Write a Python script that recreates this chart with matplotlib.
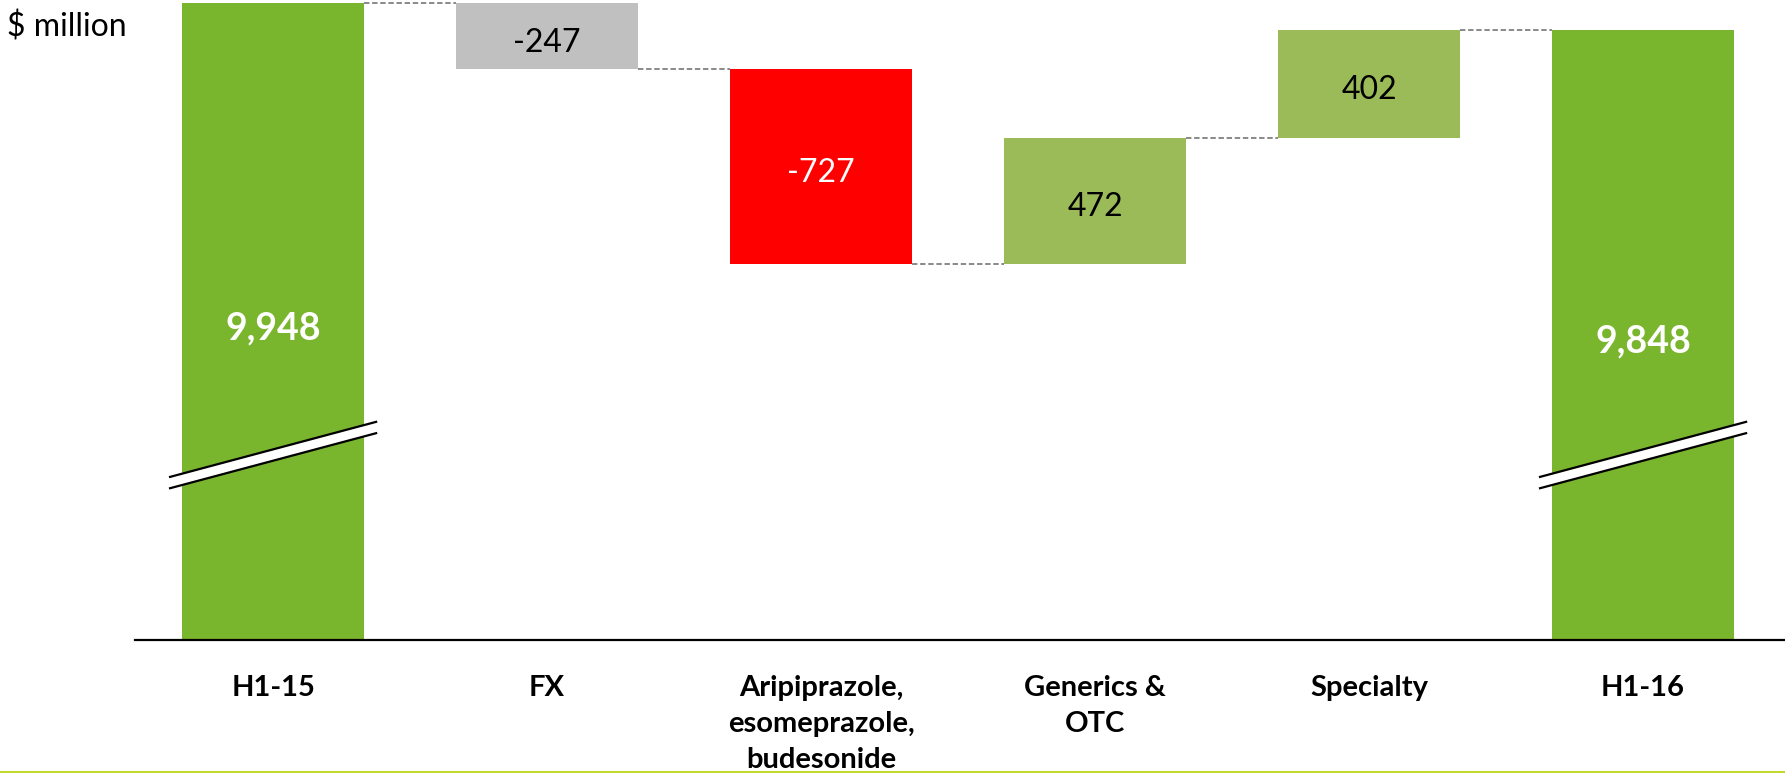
import matplotlib
matplotlib.use("Agg")
import matplotlib.pyplot as plt
from matplotlib.lines import Line2D
from matplotlib.patches import Polygon
import matplotlib.transforms as mtransforms

# ---- data ($ million) ----
categories = ["H1-15", "FX", "Aripiprazole,\nesomeprazole,\nbudesonide",
              "Generics &\nOTC", "Specialty", "H1-16"]
start_total = 9948
changes = [-247, -727, 472, 402]
end_total = 9848
value_labels = ["9,948", "-247", "-727", "472", "402", "9,848"]

# ---- styling ----
bar_colors = ["#7AB52E", "#C0C0C0", "#FF0000", "#9BBB59", "#9BBB59", "#7AB52E"]
label_colors = ["white", "black", "white", "black", "black", "white"]
label_weights = ["bold", "normal", "normal", "normal", "normal", "bold"]
label_sizes = [27, 23, 23, 23, 23, 27]
bar_width = 0.664
y_min, y_max = 7565, 9961

plt.rcParams["font.family"] = ["Lato", "DejaVu Sans"]

fig = plt.figure(figsize=(17.85, 7.73), dpi=100)
ax = fig.add_axes([135 / 1785, 133 / 773, 1650 / 1785, 640 / 773])

# bar geometry from the running total
bottoms, heights, levels = [], [], []
level = start_total
bottoms.append(y_min)
heights.append(start_total - y_min)
levels.append(level)
for ch in changes:
    new_level = level + ch
    bottoms.append(min(level, new_level))
    heights.append(abs(ch))
    level = new_level
    levels.append(level)
bottoms.append(y_min)
heights.append(end_total - y_min)
levels.append(end_total)

x = list(range(len(categories)))
ax.bar(x, heights, bottom=bottoms, width=bar_width, color=bar_colors,
       edgecolor="none", zorder=2)

# dashed connectors between consecutive bars
for i in range(len(x) - 1):
    ax.plot([x[i] + bar_width / 2, x[i + 1] - bar_width / 2],
            [levels[i], levels[i]], color="#808080", lw=1.3,
            ls=(0, (3, 1.5)), zorder=1)

# value labels
for i in x:
    yc = bottoms[i] + heights[i] / 2
    ax.annotate(value_labels[i], (x[i], yc), xytext=(0, -4.5),
                textcoords="offset points", ha="center", va="center",
                color=label_colors[i], fontsize=label_sizes[i],
                fontweight=label_weights[i], zorder=4)

# axis-break marks on the two total bars
trans = mtransforms.blended_transform_factory(ax.transData, ax.transAxes)
half = 0.376
yc, rise, gap = 0.289, 0.086, 0.0177
for i in (0, len(x) - 1):
    x0, x1 = x[i] - half, x[i] + half
    upper = [(x0, yc - rise / 2 + gap / 2), (x1, yc + rise / 2 + gap / 2)]
    lower = [(x0, yc - rise / 2 - gap / 2), (x1, yc + rise / 2 - gap / 2)]
    ax.add_patch(Polygon(upper + lower[::-1], closed=True, facecolor="white",
                         edgecolor="none", transform=trans, zorder=5))
    for seg in (upper, lower):
        ax.add_line(Line2D([seg[0][0], seg[1][0]], [seg[0][1], seg[1][1]],
                           color="black", lw=1.6, transform=trans, zorder=6))

ax.set_xlim(-0.504, 5.518)
ax.set_ylim(y_min, y_max)
ax.set_xticks(x)
ax.set_xticklabels(categories, fontsize=21, fontweight="bold",
                   linespacing=1.47, multialignment="center")
ax.tick_params(axis="x", length=0, pad=25.5)
ax.set_yticks([])
for side in ("top", "right", "left"):
    ax.spines[side].set_visible(False)
ax.spines["bottom"].set_linewidth(1.6)
ax.spines["bottom"].set_color("black")

fig.text(7 / 1785, 1 - 27 / 773, "$ million", fontsize=23, ha="left",
         va="center", color="black")

# thin accent rule along the bottom edge
fig.add_artist(Line2D([0, 1], [1.2 / 773, 1.2 / 773], color="#C3D82E",
                      lw=1.5, transform=fig.transFigure))

fig.savefig("out.png", dpi=100)
